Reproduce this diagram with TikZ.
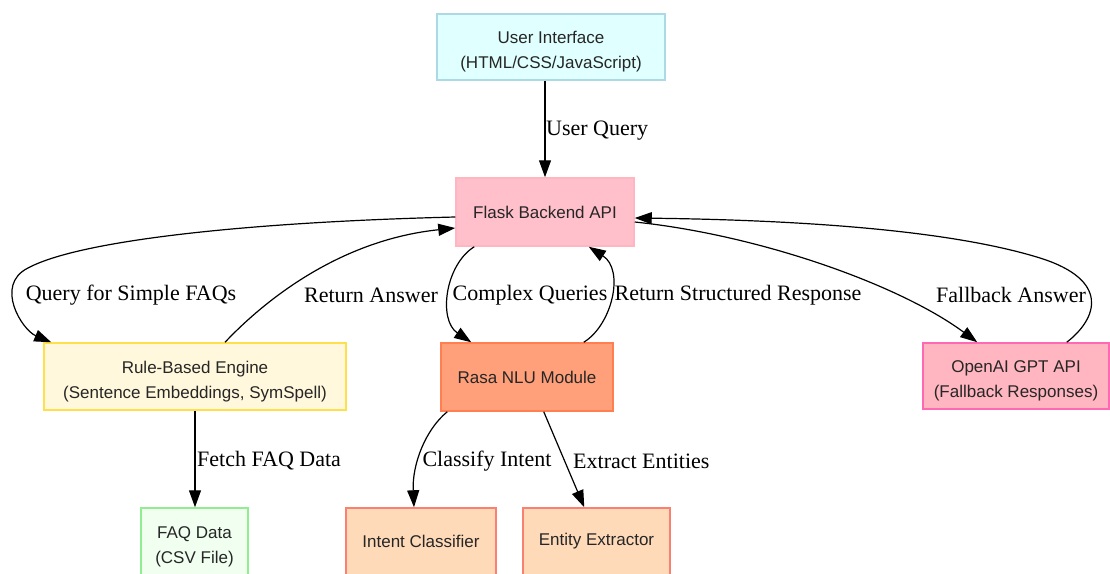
\documentclass[tikz,border=0pt]{standalone}
\usepackage{fontspec}
\setmainfont{Liberation Serif}
\setsansfont{Liberation Sans}
\usetikzlibrary{arrows.meta,calc}
\definecolor{uifill}{HTML}{E0FFFF}\definecolor{uidraw}{HTML}{ADD8E6}
\definecolor{flfill}{HTML}{FFC0CB}\definecolor{fldraw}{HTML}{FFB6C1}
\definecolor{rbfill}{HTML}{FFF8DC}\definecolor{rbdraw}{HTML}{FFE04A}
\definecolor{rsfill}{HTML}{FFA07A}\definecolor{rsdraw}{HTML}{FF7F50}
\definecolor{oafill}{HTML}{FFB6C1}\definecolor{oadraw}{HTML}{FF69B4}
\definecolor{fqfill}{HTML}{F0FFF0}\definecolor{fqdraw}{HTML}{90EE90}
\definecolor{icfill}{HTML}{FFDAB9}\definecolor{icdraw}{HTML}{FA8072}
\tikzset{
  box/.style={draw, line width=1.5pt, minimum height=67pt, align=center, inner sep=0pt,
    font=\sffamily\fontsize{17}{25}\selectfont, text=black!85},
  twoline/.style={text height=47pt},
  conn/.style={-{Triangle[length=17pt,width=12pt]}, line width=1.2pt},
  lbl/.style={font=\fontsize{22}{26}\selectfont, inner sep=0pt},
}
\begin{document}
\begin{tikzpicture}[x=1pt,y=-1pt]
\useasboundingbox (0,0) rectangle (1110,573);
\node[box, twoline, fill=uifill, draw=uidraw, minimum width=228pt, minimum height=66pt] (ui) at (551,47) {User Interface\\(HTML/CSS/JavaScript)};
\node[box, fill=flfill, draw=fldraw, minimum width=178pt, minimum height=68pt] (flask) at (545,212) {Flask Backend API};
\node[box, twoline, fill=rbfill, draw=rbdraw, minimum width=302pt] (rule) at (195,376.5) {Rule-Based Engine\\(Sentence Embeddings, SymSpell)};
\node[box, fill=rsfill, draw=rsdraw, minimum width=172pt, minimum height=68pt] (rasa) at (527,377) {Rasa NLU Module};
\node[box, twoline, fill=oafill, draw=oadraw, minimum width=186pt, minimum height=66pt] (openai) at (1016,376) {OpenAI GPT API\\(Fallback Responses)};
\node[box, twoline, fill=fqfill, draw=fqdraw, minimum width=107pt] (faq) at (194.5,541.5) {FAQ Data\\(CSV File)};
\node[box, fill=icfill, draw=icdraw, minimum width=150pt] (intent) at (421,541.5) {Intent Classifier};
\node[box, fill=icfill, draw=icdraw, minimum width=147pt] (entity) at (596.5,541.5) {Entity Extractor};

% connectors
\draw[conn] (ui.south -| flask.north) -- (flask.north);
\draw[conn] ($(flask.west)+(0,5)$) .. controls (250,222) and (80,240) .. (28,268)
   .. controls (-6,285) and (22,330) .. ($(rule.north west)+(8,0)$);
\draw[conn] ($(rule.north)+(30,0)$) .. controls (265,300) and (340,240) .. ($(flask.west)+(0,16)$);
\draw[conn] ($(flask.south west)+(19,0)$) .. controls (445,265) and (438,320) .. ($(rasa.north west)+(31,0)$);
\draw[conn] ($(rasa.north east)+(-30,0)$) .. controls (612,325) and (625,270) .. ($(flask.south east)+(-46,0)$);
\draw[conn] ($(flask.east)+(0,10)$) .. controls (760,235) and (900,285) .. ($(openai.north west)+(55,0)$);
\draw[conn] ($(openai.north east)+(-43,0)$) .. controls (1098,318) and (1110,280) .. (1040,258)
   .. controls (950,230) and (800,220) .. ($(flask.east)+(0,6)$);
\draw[conn] (rule.south) -- (rule.south |- faq.north);
\draw[conn] ($(rasa.south west)+(7,0)$) .. controls (425,430) and (412,465) .. ($(intent.north)+(-7,0)$);
\draw[conn] ($(rasa.south east)+(-70,0)$) -- ($(entity.north west)+(62,0)$);

% labels
\node[lbl, anchor=west] (lq) at (546,131) {User Query};
\node[lbl] (l1) at (131,295) {Query for Simple FAQs};
\node[lbl] (l2) at (371,295) {Return Answer};
\node[lbl] (l3) at (530,295) {Complex Queries};
\node[lbl] (l4) at (738,295) {Return Structured Response};
\node[lbl] (l5) at (1011,295) {Fallback Answer};
\node[lbl, anchor=west] (l6) at (197,461) {Fetch FAQ Data};
\node[lbl] (l7) at (487,461) {Classify Intent};
\node[lbl, anchor=west] (l8) at (573,461) {Extract Entities};
\end{tikzpicture}
\end{document}
